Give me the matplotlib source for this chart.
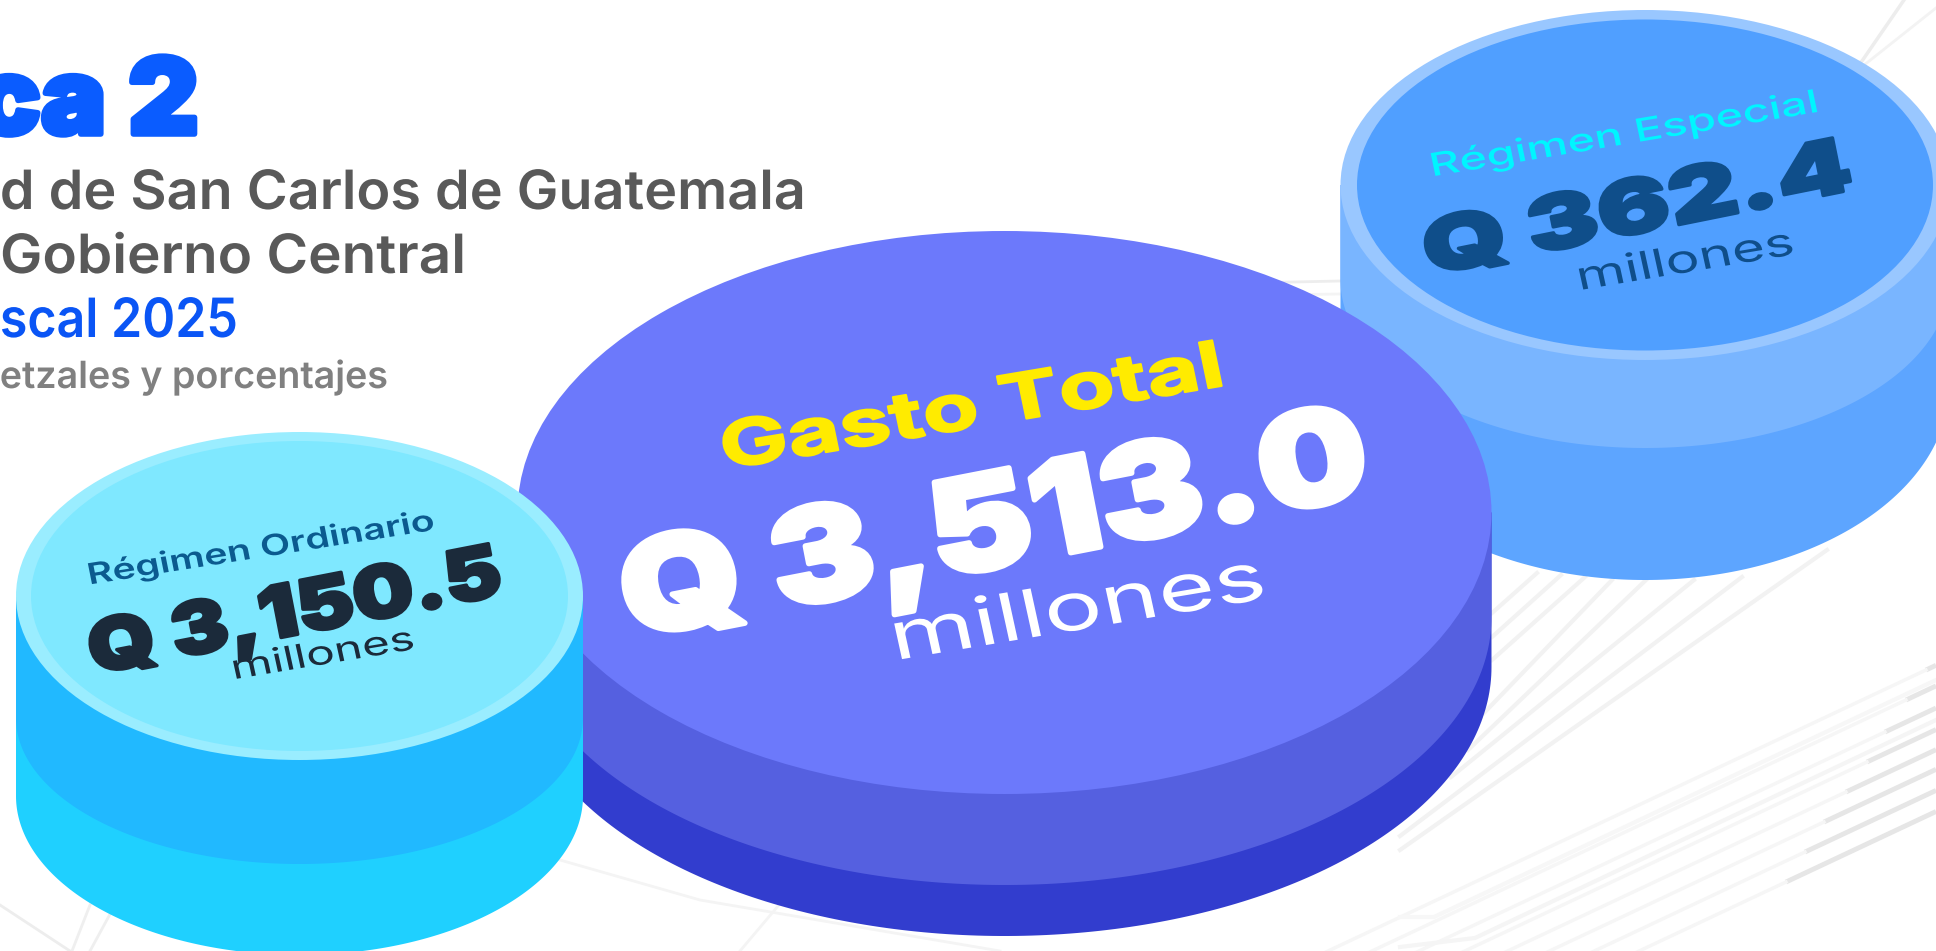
import numpy as np
import matplotlib
matplotlib.use("Agg")
import matplotlib.pyplot as plt
from matplotlib.patches import Ellipse
from matplotlib.patheffects import AbstractPathEffect
from matplotlib.transforms import Affine2D

# textos
titulo = "Gráfica 2"
sub1 = "Universidad de San Carlos de Guatemala"
sub2 = "Gobierno Central"
sub3 = "Ejercicio Fiscal 2025"
sub4 = "Millones de quetzales y porcentajes"

categorias = ["Régimen Especial", "Gasto Total", "Régimen Ordinario"]
valores = [362.4, 3513.0, 3150.5]
unidad = "millones"

# geometria de los cilindros, en pixeles de la imagen
cx = [1645, 1004.5, 299.5]
cy = [185, 512.5, 596]
ra = [304.5, 487, 283.5]
rb = [175, 281.5, 164]
inner = [(288, 165.5), None, (268.5, 155)]
banda1 = [(280, 168), (617, 268), (718, 146)]
banda2 = [(385, 195), (667, 269), (796, 159)]

col_rim = ["#99C7FF", None, "#9AEDFF"]
col_top = ["#509FFF", "#6C79FB", "#7FE8FF"]
col_b1 = ["#79B5FF", "#5560E0", "#21B9FF"]
col_b2 = ["#5DA5FF", "#323DCE", "#1FD0FF"]

fig = plt.figure(figsize=(19.36, 9.51), dpi=100)
ax = fig.add_axes([0, 0, 1, 1])
ax.set_xlim(0, 1936)
ax.set_ylim(951, 0)
ax.axis("off")


class Iso(AbstractPathEffect):
    # estira e inclina el texto sobre la cara del cilindro
    def __init__(self, x, y, ang, sx=1.0, shear=0.0, grosor=0.0):
        super().__init__()
        self.px, self.py = ax.transData.transform((x, y))
        self.ang, self.sx, self.shear, self.grosor = ang, sx, shear, grosor

    def draw_path(self, renderer, gc, tpath, affine, rgbFace=None):
        m = Affine2D(np.array([[self.sx, self.shear, 0], [0, 1, 0], [0, 0, 1]], dtype=float))
        t = Affine2D().translate(-self.px, -self.py).rotate_deg(-self.ang) + m
        t = t + Affine2D().rotate_deg(self.ang).translate(self.px, self.py)
        gc0 = renderer.new_gc()
        gc0.copy_properties(gc)
        if self.grosor > 0:
            gc0.set_linewidth(self.grosor)
            gc0.set_foreground(rgbFace)
            gc0.set_joinstyle("round")
        renderer.draw_path(gc0, tpath, affine + t, rgbFace)
        gc0.restore()


def ancho(s, size, weight):
    t = ax.text(0, 0, s, fontsize=size, fontweight=weight, family="Inter")
    w = t.get_window_extent(fig.canvas.get_renderer()).width
    t.remove()
    return w


def texto(s, x, y, size, weight, color, ang=0, ancho_obj=None, ref=None, ha="center", shear=0.0, grosor=0.0, z=10):
    sx = 1.0
    if ancho_obj:
        sx = ancho_obj / ancho(ref or s, size, weight)
    t = ax.text(x, y, s, fontsize=size, fontweight=weight, color=color, family="Inter",
                rotation=ang, rotation_mode="anchor", ha=ha, va="baseline", zorder=z)
    t.set_path_effects([Iso(x, y, ang, sx, shear, grosor)])
    return t


# lineas grises de fondo
gris_fuerte_ini = [(1786, 882), (1805, 852), (1824, 822), (1846, 792), (1867, 762), (1885, 732), (1906, 700), (1926, 670)]
for x0, y0 in gris_fuerte_ini:
    ax.plot([x0, 1936], [y0, y0 - (1936 - x0) * 0.47], color="#E6E6E6", lw=3.5, zorder=1, solid_capstyle="butt")
    dx = (960 - y0) / 0.47
    ax.plot([x0 - dx, x0], [960, y0], color="#F6F6F6", lw=2.5, zorder=1)

fan_x0 = [1492, 1492, 1492, 1484, 1468, 1451, 1400, 1400]
fan_y0 = [613, 637, 660, 713, 750, 777, 836, 850]
fan_x1 = [1537, 1561, 1585, 1612, 1646, 1694, 1742, 1827]
fan_y1 = [573, 575, 577, 580, 580, 580, 577, 550]
for i in range(len(fan_x0)):
    ax.plot([fan_x0[i], fan_x1[i]], [fan_y0[i], fan_y1[i]], color="#F2F2F2", lw=3, zorder=1)

ax.plot([1400, 1475, 1936], [947, 938, 720], color="#F5F5F5", lw=3, zorder=1)
ax.plot([1400, 1434, 1936], [917, 917, 680], color="#F7F7F7", lw=3, zorder=1)
ax.plot([1904, 1862, 1800], [0, 61, 110], color="#EDEDED", lw=2.5, zorder=1)
ax.plot([1936, 1868, 1830], [8, 62, 90], color="#F3F3F3", lw=2, zorder=1)
ax.plot([1200, 1340], [284, 281], color="#EDEDED", lw=2, zorder=1)
ax.plot([1200, 1340], [296, 294], color="#F4F4F4", lw=2, zorder=1)
ax.plot([0, 70], [905, 951], color="#EDEDED", lw=2, zorder=1)
ax.plot([90, 72], [905, 951], color="#EFEFEF", lw=2, zorder=1)
ax.plot([115, 90], [905, 951], color="#EFEFEF", lw=2, zorder=1)
ax.plot([560, 700, 1000], [860, 900, 951], color="#F4F4F4", lw=2, zorder=1)
ax.plot([740, 800, 770], [951, 880, 860], color="#F4F4F4", lw=2, zorder=1)

# cilindros: especial, total, ordinario
t_ang = np.linspace(0, np.pi, 200)
for i in range(3):
    z = 2 + i
    for (c, b), col in [(banda2[i], col_b2[i]), (banda1[i], col_b1[i])]:
        xs = cx[i] + ra[i] * np.cos(t_ang)
        ys = c + b * np.sin(t_ang)
        xs = np.r_[cx[i] + ra[i], xs, cx[i] - ra[i]]
        ys = np.r_[cy[i], ys, cy[i]]
        ax.fill(xs, ys, color=col, lw=0, zorder=z)
    if col_rim[i]:
        ax.add_patch(Ellipse((cx[i], cy[i]), 2 * ra[i], 2 * rb[i], fc=col_rim[i], ec="none", zorder=z))
        ax.add_patch(Ellipse((cx[i], cy[i]), 2 * inner[i][0], 2 * inner[i][1], fc=col_top[i], ec="none", zorder=z))
    else:
        ax.add_patch(Ellipse((cx[i], cy[i]), 2 * ra[i], 2 * rb[i], fc=col_top[i], ec="none", zorder=z))

# encabezado
azul = "#0A5CFF"
texto(titulo, 199, 134, 76, "black", azul, ha="right", ancho_obj=158, ref="a 2", grosor=4)
texto(sub1, 806, 209, 39, "semibold", "#595959", ha="right", ancho_obj=806, ref="d de San Carlos de Guatemala")
texto(sub2, 466, 273, 39, "semibold", "#595959", ha="right", ancho_obj=466)
texto(sub3, 238, 337, 39, "semibold", "#0A55F5", ha="right", ancho_obj=238, ref="scal 2025")
texto(sub4, 388, 388, 27, "semibold", "#808080", ha="right", ancho_obj=388, ref="etzales y porcentajes")

# rotulos sobre los cilindros
fmt = ["Q {:,.1f}".format(v) for v in valores]
texto(categorias[0], 1626, 144, 23, "medium", "#00F5FF", ang=9.5, ancho_obj=394, shear=-0.04)
texto(fmt[0], 1642, 232, 54, "black", "#0F4E8A", ang=11.4, ancho_obj=437, grosor=2.5)
texto(unidad, 1688, 272, 28, "regular", "#0F4E8A", ang=9.5, ancho_obj=221, shear=-0.05)

texto(categorias[1], 976, 427, 46, "bold", "#FFEB00", ang=9.5, ancho_obj=510, shear=-0.04, grosor=1.5)
texto(fmt[1], 1002, 566, 94, "black", "white", ang=11, ancho_obj=760, grosor=4)
texto(unidad, 1082, 629, 48, "regular", "white", ang=9.5, ancho_obj=380, shear=-0.05)

texto(categorias[2], 263, 557, 21, "semibold", "#0B5A8F", ang=9, ancho_obj=352, shear=-0.04)
texto(fmt[2], 299, 634, 52, "black", "#1B2A3A", ang=11, ancho_obj=420, grosor=2.5)
texto(unidad, 325, 664, 24, "regular", "#1B2A3A", ang=9.5, ancho_obj=186, shear=-0.05)

fig.savefig("out.png", dpi=100, facecolor="white")
